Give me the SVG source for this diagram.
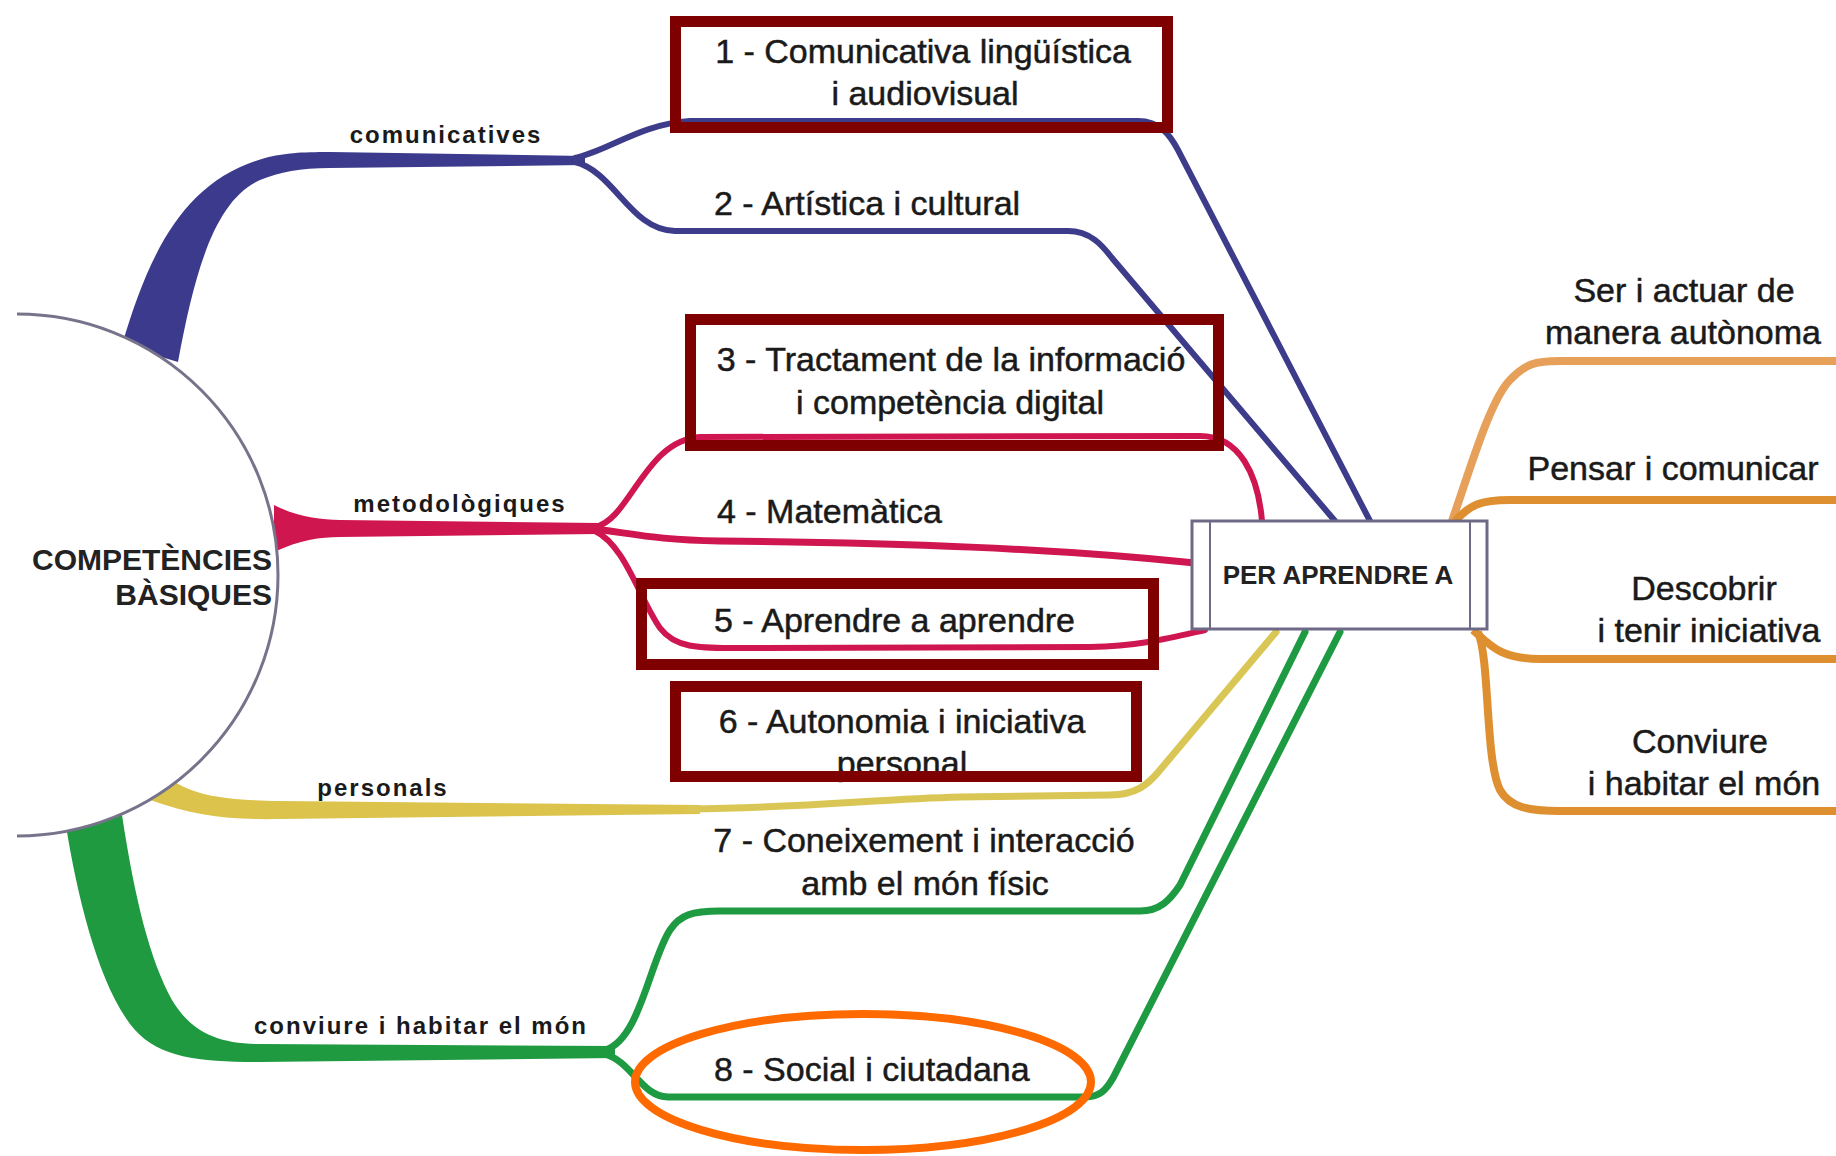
<svg xmlns="http://www.w3.org/2000/svg" width="1836" height="1156" viewBox="0 0 1836 1156">
<style>
.t{font-family:"Liberation Sans",Arial,sans-serif;font-size:34px;fill:#1a1a1a;stroke:#1a1a1a;stroke-width:0.5}
.c{text-anchor:middle}
.lab{font-family:"Liberation Sans",Arial,sans-serif;font-size:24px;font-weight:bold;fill:#1a1a1a;letter-spacing:2px}
.big{font-family:"Liberation Sans",Arial,sans-serif;font-size:30px;font-weight:bold;fill:#222;text-anchor:end}
.blue{fill:none;stroke:#3d3c8a;stroke-width:6;stroke-linecap:round}
.red{fill:none;stroke:#cf1650;stroke-width:6;stroke-linecap:round}
.yel{fill:none;stroke:#d9c655;stroke-width:7;stroke-linecap:round}
.grn{fill:none;stroke:#1e9a42;stroke-width:7;stroke-linecap:round}
.org{fill:none;stroke:#de9030;stroke-width:8}
.hl{fill:none;stroke:#7f0000;stroke-width:11}
</style>
<rect width="1836" height="1156" fill="#ffffff"/>
<g id="connectors">
  <path d="M 122,345 C 150,250 185,180 265,158 C 285,153 300,152 330,152 L 585,156 L 585,165 L 330,168 C 300,168 280,172 260,180 C 215,200 195,270 178,362 Z" fill="#3b3a8c"/>
  <path class="blue" d="M 575,158 C 610,150 640,124 690,121 L 1138,121 C 1160,121 1170,135 1178,150 L 1370,521"/>
  <path class="blue" d="M 575,162 C 615,172 630,230 675,231 L 1068,231 C 1090,231 1102,245 1112,258 L 1335,521"/>
  <path d="M 274,505 C 300,518 320,519 340,520 L 600,523 L 600,534 L 340,537 C 320,537 300,540 274,552 Z" fill="#d0164f"/>
  <path class="red" d="M 595,527 C 630,520 645,440 700,437 L 1200,436 C 1240,436 1258,475 1262,521"/>
  <path class="red" style="stroke-width:7" d="M 595,529 C 640,535 660,540 720,541 C 900,543 1050,548 1195,563"/>
  <path class="red" d="M 595,531 C 625,545 640,600 660,628 C 675,648 700,648 730,648 L 1090,647 C 1140,646 1170,638 1205,630"/>
  <path d="M 172,780 C 195,796 225,800 280,801 L 700,805 L 700,814 L 280,819 C 230,820 195,816 150,800 Z" fill="#dcc34c"/>
  <path class="yel" d="M 690,809 C 800,808 880,799 960,797 L 1110,795 C 1135,795 1148,785 1160,770 L 1276,632"/>
  <path d="M 66,826 C 78,900 100,990 135,1030 C 160,1058 200,1062 260,1062 L 615,1058 L 615,1046 L 260,1044 C 215,1044 190,1030 172,1000 C 150,960 135,900 122,815 Z" fill="#1f9a40"/>
  <path class="grn" d="M 605,1050 C 640,1040 650,960 670,930 C 680,915 692,911 720,911 L 1140,911 C 1160,911 1170,900 1180,885 L 1305,632"/>
  <path class="grn" d="M 605,1054 C 632,1062 642,1097 668,1097 L 1085,1097 C 1100,1097 1106,1090 1113,1078 L 1340,632"/>
  <path class="org" style="stroke:#e6a05a" d="M 1452,521 C 1470,470 1490,400 1510,380 C 1525,364 1535,361 1560,361 L 1836,361"/>
  <path class="org" d="M 1455,521 C 1470,505 1480,500 1510,500 L 1836,500"/>
  <path class="org" d="M 1473,630 C 1490,645 1500,659 1540,659 L 1836,659"/>
  <path class="org" d="M 1478,632 C 1490,660 1485,760 1500,790 C 1510,808 1530,811 1560,811 L 1836,811"/>
</g>
<g id="competencies">
  <path d="M 17,314 A 261,261 0 1 1 17,836 Z" fill="#ffffff" stroke="none"/>
  <path d="M 17,314 A 261,261 0 1 1 17,836" fill="none" stroke="#77738a" stroke-width="3"/>
  <text class="big" x="272" y="570">COMPETÈNCIES</text>
  <text class="big" x="272" y="605">BÀSIQUES</text>
</g>
<g id="label-comunicatives"><text class="lab" x="446" y="143" text-anchor="middle">comunicatives</text></g>
<g id="label-metodologiques"><text class="lab" x="460" y="512" text-anchor="middle">metodològiques</text></g>
<g id="label-personals"><text class="lab" x="383" y="796" text-anchor="middle">personals</text></g>
<g id="label-conviure"><text class="lab" x="421" y="1034" text-anchor="middle">conviure i habitar el món</text></g>
<g id="per-aprendre">
  <rect x="1192" y="521" width="295" height="108" fill="#ffffff" stroke="#6e6a86" stroke-width="3"/>
  <line x1="1210" y1="521" x2="1210" y2="629" stroke="#6e6a86" stroke-width="2"/>
  <line x1="1470" y1="521" x2="1470" y2="629" stroke="#6e6a86" stroke-width="2"/>
  <text x="1338" y="584" text-anchor="middle" style="font-family:'Liberation Sans',Arial,sans-serif;font-size:26px;font-weight:bold;fill:#222">PER APRENDRE A</text>
</g>
<g id="c1"><text class="t c" x="923" y="63">1 - Comunicativa lingüística</text><text class="t c" x="925" y="105">i audiovisual</text></g>
<g id="c2"><text class="t" x="714" y="215">2 - Artística i cultural</text></g>
<g id="c3"><text class="t c" x="951" y="371">3 - Tractament de la informació</text><text class="t c" x="950" y="414">i competència digital</text></g>
<g id="c4"><text class="t" x="717" y="523">4 - Matemàtica</text></g>
<g id="c5"><text class="t" x="714" y="632">5 - Aprendre a aprendre</text></g>
<g id="c6"><text class="t c" x="902" y="733">6 - Autonomia i iniciativa</text><text class="t c" x="902" y="775">personal</text></g>
<g id="c7"><text class="t c" x="924" y="852">7 - Coneixement i interacció</text><text class="t c" x="925" y="895">amb el món físic</text></g>
<g id="c8"><text class="t" x="714" y="1081">8 - Social i ciutadana</text></g>
<g id="r1"><text class="t c" x="1684" y="302">Ser i actuar de</text><text class="t c" x="1683" y="344">manera autònoma</text></g>
<g id="r2"><text class="t c" x="1673" y="480">Pensar i comunicar</text></g>
<g id="r3"><text class="t c" x="1704" y="600">Descobrir</text><text class="t c" x="1709" y="642">i tenir iniciativa</text></g>
<g id="r4"><text class="t c" x="1700" y="753">Conviure</text><text class="t c" x="1704" y="795">i habitar el món</text></g>
<g id="highlights">
  <rect class="hl" x="675.5" y="21.5" width="492" height="106"/>
  <rect class="hl" x="690.5" y="319.5" width="528" height="126"/>
  <rect class="hl" x="641.5" y="583.5" width="512" height="81"/>
  <rect class="hl" x="675.5" y="686.5" width="461" height="90"/>
  <ellipse cx="863" cy="1082" rx="228" ry="68" fill="none" stroke="#ff6a00" stroke-width="8"/>
</g>
</svg>
